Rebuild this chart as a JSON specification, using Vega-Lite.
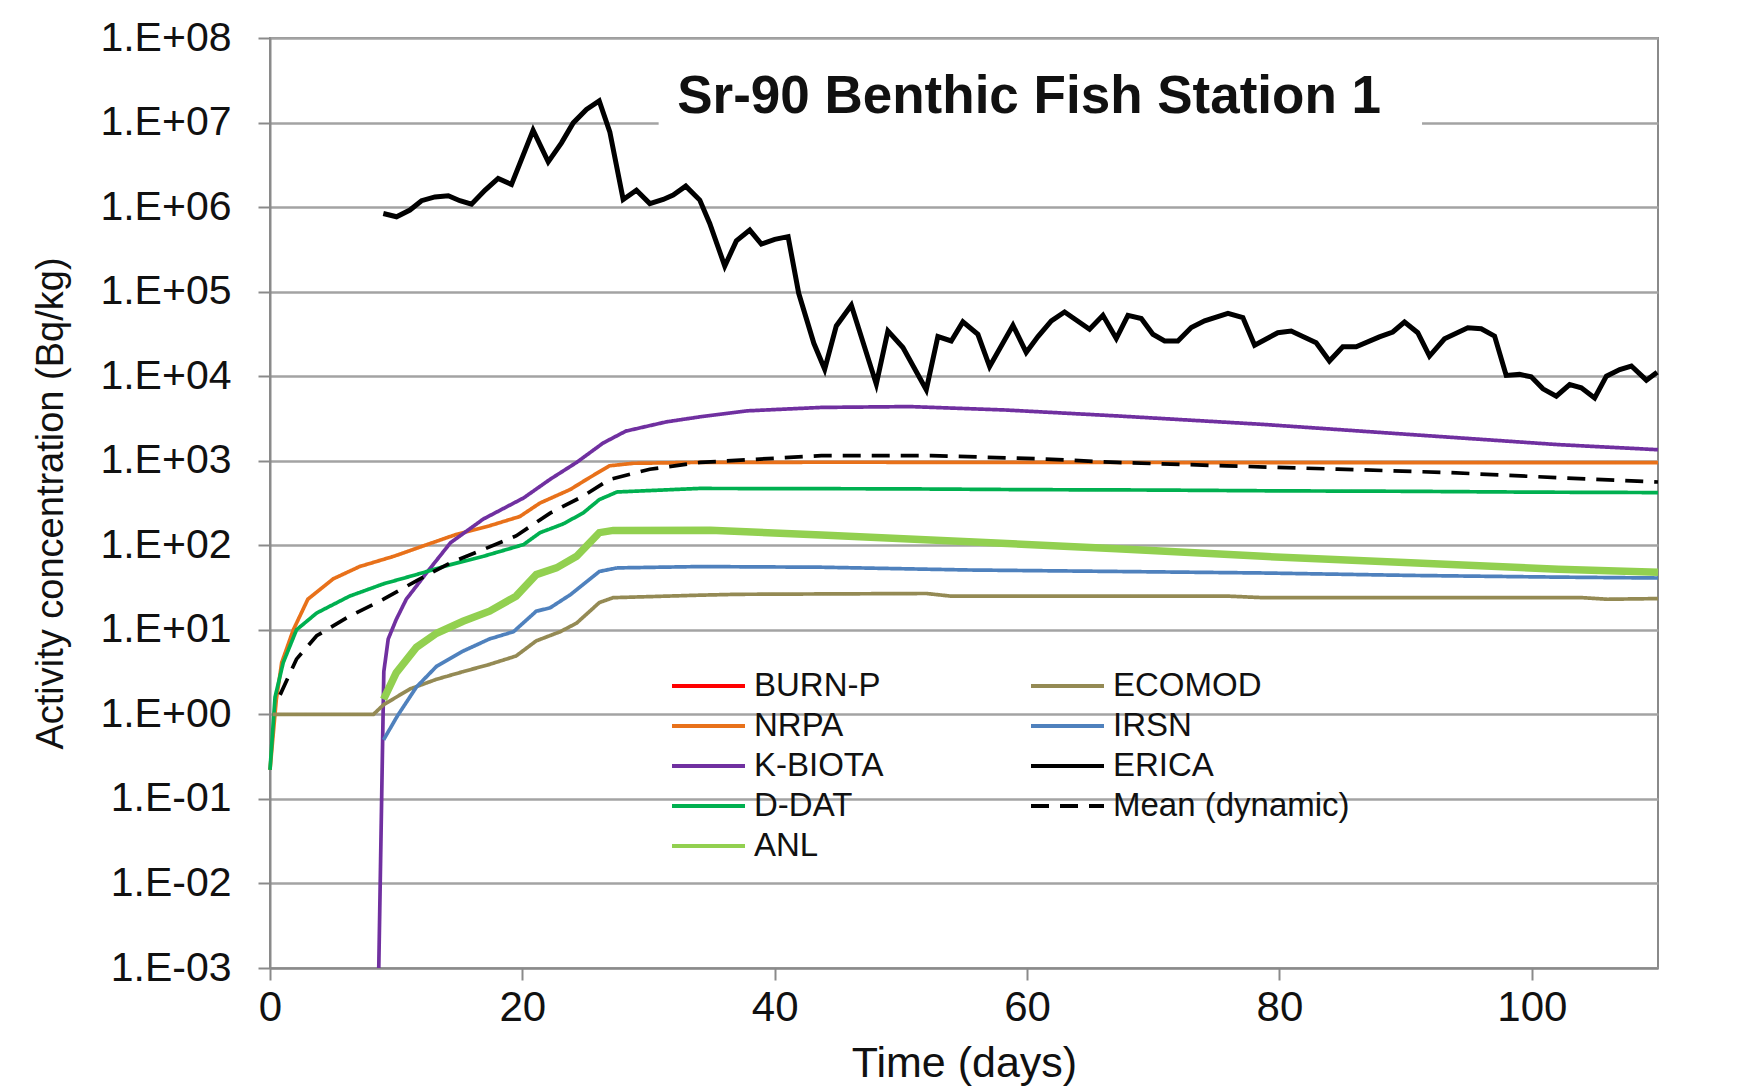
{
  "$schema": "https://vega.github.io/schema/vega-lite/v6.json",
  "width": 1388,
  "height": 930,
  "autosize": {"type": "none"},
  "padding": {"left": 270, "top": 38, "right": 99, "bottom": 123},
  "background": "white",
  "config": {
    "font": "Liberation Sans",
    "view": {"stroke": "#8a8a8a", "strokeWidth": 2},
    "axis": {
      "domainColor": "#8a8a8a", "domainWidth": 2,
      "tickColor": "#8a8a8a", "tickWidth": 2, "tickSize": 12,
      "gridColor": "#a3a3a3", "gridWidth": 2.5,
      "labelColor": "#111111", "titleColor": "#111111",
      "labelFont": "Liberation Sans", "titleFont": "Liberation Sans",
      "titleFontWeight": "normal", "labelFontSize": 41, "titleFontSize": 39,
      "labelFlush": false, "labelOverlap": false, "labelBound": false
    }
  },
  "datasets": {
    "series": [
      {"model": "NRPA", "day": 0, "value": 0.22},
      {"model": "NRPA", "day": 0.5, "value": 1.5},
      {"model": "NRPA", "day": 0.93, "value": 4.1},
      {"model": "NRPA", "day": 1.85, "value": 10},
      {"model": "NRPA", "day": 3.0, "value": 23},
      {"model": "NRPA", "day": 5.0, "value": 40},
      {"model": "NRPA", "day": 7.1, "value": 56},
      {"model": "NRPA", "day": 9.8, "value": 74},
      {"model": "NRPA", "day": 12.7, "value": 105},
      {"model": "NRPA", "day": 14.8, "value": 135},
      {"model": "NRPA", "day": 17.4, "value": 170},
      {"model": "NRPA", "day": 19.8, "value": 219},
      {"model": "NRPA", "day": 21.4, "value": 316},
      {"model": "NRPA", "day": 23.8, "value": 457},
      {"model": "NRPA", "day": 25.1, "value": 603},
      {"model": "NRPA", "day": 26.9, "value": 871},
      {"model": "NRPA", "day": 28.8, "value": 933},
      {"model": "NRPA", "day": 34, "value": 955},
      {"model": "NRPA", "day": 45, "value": 960},
      {"model": "NRPA", "day": 60, "value": 955},
      {"model": "NRPA", "day": 80, "value": 950},
      {"model": "NRPA", "day": 100, "value": 950},
      {"model": "NRPA", "day": 110, "value": 948},

      {"model": "K-BIOTA", "day": 8.62, "value": 0.001},
      {"model": "K-BIOTA", "day": 9.02, "value": 3.2},
      {"model": "K-BIOTA", "day": 9.37, "value": 7.8},
      {"model": "K-BIOTA", "day": 10.0, "value": 13.2},
      {"model": "K-BIOTA", "day": 10.8, "value": 23},
      {"model": "K-BIOTA", "day": 12.4, "value": 47},
      {"model": "K-BIOTA", "day": 14.3, "value": 107},
      {"model": "K-BIOTA", "day": 16.9, "value": 204},
      {"model": "K-BIOTA", "day": 20.1, "value": 363},
      {"model": "K-BIOTA", "day": 22.2, "value": 603},
      {"model": "K-BIOTA", "day": 24.3, "value": 955},
      {"model": "K-BIOTA", "day": 26.4, "value": 1620},
      {"model": "K-BIOTA", "day": 28.2, "value": 2240},
      {"model": "K-BIOTA", "day": 31.4, "value": 2880},
      {"model": "K-BIOTA", "day": 34.1, "value": 3310},
      {"model": "K-BIOTA", "day": 37.8, "value": 3890},
      {"model": "K-BIOTA", "day": 43.7, "value": 4270},
      {"model": "K-BIOTA", "day": 50.7, "value": 4370},
      {"model": "K-BIOTA", "day": 58.3, "value": 3980},
      {"model": "K-BIOTA", "day": 67.1, "value": 3390},
      {"model": "K-BIOTA", "day": 78.7, "value": 2690},
      {"model": "K-BIOTA", "day": 90.4, "value": 2040},
      {"model": "K-BIOTA", "day": 102.1, "value": 1550},
      {"model": "K-BIOTA", "day": 110, "value": 1350},

      {"model": "D-DAT", "day": 0, "value": 0.22},
      {"model": "D-DAT", "day": 0.4, "value": 1.6},
      {"model": "D-DAT", "day": 1.05, "value": 4.1},
      {"model": "D-DAT", "day": 2.1, "value": 10},
      {"model": "D-DAT", "day": 3.7, "value": 15.8},
      {"model": "D-DAT", "day": 6.3, "value": 25},
      {"model": "D-DAT", "day": 9.0, "value": 35},
      {"model": "D-DAT", "day": 11.6, "value": 45},
      {"model": "D-DAT", "day": 14.3, "value": 59},
      {"model": "D-DAT", "day": 16.9, "value": 74},
      {"model": "D-DAT", "day": 20.1, "value": 102},
      {"model": "D-DAT", "day": 21.4, "value": 141},
      {"model": "D-DAT", "day": 23.2, "value": 178},
      {"model": "D-DAT", "day": 24.8, "value": 240},
      {"model": "D-DAT", "day": 26.1, "value": 347},
      {"model": "D-DAT", "day": 27.5, "value": 427},
      {"model": "D-DAT", "day": 34, "value": 470},
      {"model": "D-DAT", "day": 50, "value": 465},
      {"model": "D-DAT", "day": 60, "value": 455},
      {"model": "D-DAT", "day": 70, "value": 450},
      {"model": "D-DAT", "day": 80, "value": 440},
      {"model": "D-DAT", "day": 90, "value": 435},
      {"model": "D-DAT", "day": 100, "value": 425},
      {"model": "D-DAT", "day": 110, "value": 420},

      {"model": "ANL", "day": 9.0, "value": 1.5},
      {"model": "ANL", "day": 10.0, "value": 3.1},
      {"model": "ANL", "day": 11.6, "value": 6.2},
      {"model": "ANL", "day": 13.2, "value": 9.1},
      {"model": "ANL", "day": 15.3, "value": 12.6},
      {"model": "ANL", "day": 17.4, "value": 16.6},
      {"model": "ANL", "day": 19.5, "value": 25},
      {"model": "ANL", "day": 21.1, "value": 45},
      {"model": "ANL", "day": 22.7, "value": 54},
      {"model": "ANL", "day": 24.3, "value": 74},
      {"model": "ANL", "day": 26.1, "value": 141},
      {"model": "ANL", "day": 27.2, "value": 150},
      {"model": "ANL", "day": 34.9, "value": 151},
      {"model": "ANL", "day": 43.7, "value": 132},
      {"model": "ANL", "day": 55.4, "value": 110},
      {"model": "ANL", "day": 67.1, "value": 91},
      {"model": "ANL", "day": 78.7, "value": 74},
      {"model": "ANL", "day": 90.4, "value": 62},
      {"model": "ANL", "day": 102.1, "value": 52},
      {"model": "ANL", "day": 110, "value": 48},

      {"model": "ECOMOD", "day": 0.2, "value": 1.0},
      {"model": "ECOMOD", "day": 8.2, "value": 1.0},
      {"model": "ECOMOD", "day": 9.0, "value": 1.3},
      {"model": "ECOMOD", "day": 11.1, "value": 2.0},
      {"model": "ECOMOD", "day": 13.2, "value": 2.6},
      {"model": "ECOMOD", "day": 15.3, "value": 3.2},
      {"model": "ECOMOD", "day": 17.4, "value": 3.9},
      {"model": "ECOMOD", "day": 19.5, "value": 4.9},
      {"model": "ECOMOD", "day": 21.1, "value": 7.4},
      {"model": "ECOMOD", "day": 23.0, "value": 9.5},
      {"model": "ECOMOD", "day": 24.3, "value": 12},
      {"model": "ECOMOD", "day": 26.1, "value": 21},
      {"model": "ECOMOD", "day": 27.2, "value": 24},
      {"model": "ECOMOD", "day": 34.1, "value": 25.7},
      {"model": "ECOMOD", "day": 37, "value": 26.3},
      {"model": "ECOMOD", "day": 52, "value": 26.9},
      {"model": "ECOMOD", "day": 54, "value": 25},
      {"model": "ECOMOD", "day": 76, "value": 25},
      {"model": "ECOMOD", "day": 78.7, "value": 24},
      {"model": "ECOMOD", "day": 104, "value": 24},
      {"model": "ECOMOD", "day": 106, "value": 23},
      {"model": "ECOMOD", "day": 110, "value": 23.4},

      {"model": "IRSN", "day": 9.0, "value": 0.5},
      {"model": "IRSN", "day": 10.1, "value": 0.96},
      {"model": "IRSN", "day": 11.6, "value": 2.1},
      {"model": "IRSN", "day": 13.2, "value": 3.7},
      {"model": "IRSN", "day": 15.3, "value": 5.6},
      {"model": "IRSN", "day": 17.4, "value": 7.8},
      {"model": "IRSN", "day": 19.3, "value": 9.5},
      {"model": "IRSN", "day": 21.1, "value": 16.6},
      {"model": "IRSN", "day": 22.2, "value": 18.2},
      {"model": "IRSN", "day": 23.8, "value": 26},
      {"model": "IRSN", "day": 26.1, "value": 49},
      {"model": "IRSN", "day": 27.5, "value": 54},
      {"model": "IRSN", "day": 34.1, "value": 56},
      {"model": "IRSN", "day": 43.7, "value": 55},
      {"model": "IRSN", "day": 55.4, "value": 51},
      {"model": "IRSN", "day": 67.1, "value": 49},
      {"model": "IRSN", "day": 78.7, "value": 47},
      {"model": "IRSN", "day": 90.4, "value": 44},
      {"model": "IRSN", "day": 102.1, "value": 42},
      {"model": "IRSN", "day": 110, "value": 41},

      {"model": "ERICA", "day": 8.98, "value": 841000},
      {"model": "ERICA", "day": 10.03, "value": 769000},
      {"model": "ERICA", "day": 11.09, "value": 923000},
      {"model": "ERICA", "day": 12.01, "value": 1190000},
      {"model": "ERICA", "day": 13.07, "value": 1320000},
      {"model": "ERICA", "day": 14.13, "value": 1360000},
      {"model": "ERICA", "day": 15.05, "value": 1190000},
      {"model": "ERICA", "day": 15.97, "value": 1080000},
      {"model": "ERICA", "day": 17.03, "value": 1580000},
      {"model": "ERICA", "day": 18.08, "value": 2180000},
      {"model": "ERICA", "day": 19.14, "value": 1850000},
      {"model": "ERICA", "day": 20.85, "value": 8110000},
      {"model": "ERICA", "day": 22.05, "value": 3430000},
      {"model": "ERICA", "day": 23.1, "value": 5750000},
      {"model": "ERICA", "day": 24.03, "value": 9910000},
      {"model": "ERICA", "day": 25.08, "value": 14300000},
      {"model": "ERICA", "day": 26.09, "value": 18000000},
      {"model": "ERICA", "day": 26.93, "value": 7760000},
      {"model": "ERICA", "day": 27.99, "value": 1230000},
      {"model": "ERICA", "day": 29.04, "value": 1580000},
      {"model": "ERICA", "day": 30.1, "value": 1100000},
      {"model": "ERICA", "day": 31.16, "value": 1230000},
      {"model": "ERICA", "day": 31.95, "value": 1390000},
      {"model": "ERICA", "day": 32.95, "value": 1770000},
      {"model": "ERICA", "day": 34.06, "value": 1210000},
      {"model": "ERICA", "day": 34.85, "value": 641000},
      {"model": "ERICA", "day": 36.04, "value": 201000},
      {"model": "ERICA", "day": 36.96, "value": 398000},
      {"model": "ERICA", "day": 38.02, "value": 535000},
      {"model": "ERICA", "day": 38.94, "value": 366000},
      {"model": "ERICA", "day": 40.0, "value": 415000},
      {"model": "ERICA", "day": 41.06, "value": 447000},
      {"model": "ERICA", "day": 41.9, "value": 95500},
      {"model": "ERICA", "day": 43.1, "value": 24500},
      {"model": "ERICA", "day": 43.96, "value": 12100},
      {"model": "ERICA", "day": 44.88, "value": 39300},
      {"model": "ERICA", "day": 46.07, "value": 69000},
      {"model": "ERICA", "day": 48.05, "value": 8050},
      {"model": "ERICA", "day": 48.97, "value": 34300},
      {"model": "ERICA", "day": 50.16, "value": 21800},
      {"model": "ERICA", "day": 52.01, "value": 6900},
      {"model": "ERICA", "day": 52.93, "value": 29400},
      {"model": "ERICA", "day": 53.99, "value": 26100},
      {"model": "ERICA", "day": 54.91, "value": 43900},
      {"model": "ERICA", "day": 56.1, "value": 31300},
      {"model": "ERICA", "day": 57.03, "value": 13000},
      {"model": "ERICA", "day": 58.88, "value": 40000},
      {"model": "ERICA", "day": 59.93, "value": 19100},
      {"model": "ERICA", "day": 60.86, "value": 29400},
      {"model": "ERICA", "day": 61.92, "value": 45100},
      {"model": "ERICA", "day": 62.97, "value": 57500},
      {"model": "ERICA", "day": 64.95, "value": 35900},
      {"model": "ERICA", "day": 66.01, "value": 52500},
      {"model": "ERICA", "day": 67.07, "value": 27900},
      {"model": "ERICA", "day": 67.99, "value": 52500},
      {"model": "ERICA", "day": 69.05, "value": 48000},
      {"model": "ERICA", "day": 69.97, "value": 31300},
      {"model": "ERICA", "day": 70.9, "value": 26100},
      {"model": "ERICA", "day": 71.95, "value": 26100},
      {"model": "ERICA", "day": 73.01, "value": 37600},
      {"model": "ERICA", "day": 74.07, "value": 45100},
      {"model": "ERICA", "day": 75.92, "value": 55500},
      {"model": "ERICA", "day": 77.1, "value": 49300},
      {"model": "ERICA", "day": 78.03, "value": 23200},
      {"model": "ERICA", "day": 79.87, "value": 32700},
      {"model": "ERICA", "day": 80.93, "value": 34200},
      {"model": "ERICA", "day": 82.91, "value": 24800},
      {"model": "ERICA", "day": 83.96, "value": 15100},
      {"model": "ERICA", "day": 85.02, "value": 22300},
      {"model": "ERICA", "day": 86.08, "value": 22300},
      {"model": "ERICA", "day": 87.92, "value": 29200},
      {"model": "ERICA", "day": 88.98, "value": 33300},
      {"model": "ERICA", "day": 89.91, "value": 43700},
      {"model": "ERICA", "day": 90.96, "value": 32700},
      {"model": "ERICA", "day": 91.89, "value": 17300},
      {"model": "ERICA", "day": 93.08, "value": 27700},
      {"model": "ERICA", "day": 94.93, "value": 37400},
      {"model": "ERICA", "day": 95.99, "value": 36400},
      {"model": "ERICA", "day": 97.05, "value": 29800},
      {"model": "ERICA", "day": 97.97, "value": 10200},
      {"model": "ERICA", "day": 99.03, "value": 10500},
      {"model": "ERICA", "day": 99.95, "value": 9820},
      {"model": "ERICA", "day": 100.88, "value": 7080},
      {"model": "ERICA", "day": 101.94, "value": 5790},
      {"model": "ERICA", "day": 103.0, "value": 7960},
      {"model": "ERICA", "day": 103.92, "value": 7280},
      {"model": "ERICA", "day": 104.98, "value": 5530},
      {"model": "ERICA", "day": 105.91, "value": 10000},
      {"model": "ERICA", "day": 106.97, "value": 12000},
      {"model": "ERICA", "day": 107.89, "value": 13200},
      {"model": "ERICA", "day": 109.08, "value": 8970},
      {"model": "ERICA", "day": 109.93, "value": 11100},

      {"model": "Mean (dynamic)", "day": 0.8, "value": 1.7},
      {"model": "Mean (dynamic)", "day": 2.1, "value": 4.5},
      {"model": "Mean (dynamic)", "day": 3.7, "value": 8.5},
      {"model": "Mean (dynamic)", "day": 6.3, "value": 14.5},
      {"model": "Mean (dynamic)", "day": 9.0, "value": 23},
      {"model": "Mean (dynamic)", "day": 11.6, "value": 38},
      {"model": "Mean (dynamic)", "day": 14.3, "value": 62},
      {"model": "Mean (dynamic)", "day": 16.9, "value": 89},
      {"model": "Mean (dynamic)", "day": 19.5, "value": 129},
      {"model": "Mean (dynamic)", "day": 22.2, "value": 240},
      {"model": "Mean (dynamic)", "day": 24.8, "value": 380},
      {"model": "Mean (dynamic)", "day": 26.9, "value": 600},
      {"model": "Mean (dynamic)", "day": 30.1, "value": 794},
      {"model": "Mean (dynamic)", "day": 34.1, "value": 955},
      {"model": "Mean (dynamic)", "day": 43.7, "value": 1150},
      {"model": "Mean (dynamic)", "day": 52.4, "value": 1150},
      {"model": "Mean (dynamic)", "day": 61.2, "value": 1050},
      {"model": "Mean (dynamic)", "day": 67.1, "value": 955},
      {"model": "Mean (dynamic)", "day": 75.8, "value": 870},
      {"model": "Mean (dynamic)", "day": 84.6, "value": 795},
      {"model": "Mean (dynamic)", "day": 93.4, "value": 725},
      {"model": "Mean (dynamic)", "day": 102.1, "value": 630},
      {"model": "Mean (dynamic)", "day": 110, "value": 560}
    ],
    "heading": [{"label": "Sr-90 Benthic Fish Station 1"}]
  },
  "layer": [
    {
      "data": {"name": "heading"},
      "mark": {"type": "rect", "fill": "white", "stroke": null},
      "encoding": {
        "x": {"datum": 30.8, "type": "quantitative", "scale": {"domain": [0, 110], "nice": false, "zero": false}},
        "x2": {"datum": 91.3},
        "y": {"datum": 72400000, "type": "quantitative", "scale": {"type": "log", "domain": [0.001, 100000000], "nice": false}},
        "y2": {"datum": 7240000}
      }
    },
    {
      "data": {"name": "series"},
      "transform": [{"filter": "datum.model !== 'ANL' && datum.model !== 'ERICA'"}],
      "mark": {"type": "line", "interpolate": "linear", "strokeWidth": 3.7},
      "encoding": {
        "x": {
          "field": "day", "type": "quantitative",
          "scale": {"domain": [0, 110], "nice": false, "zero": false},
          "axis": {
            "title": "Time (days)", "values": [0, 20, 40, 60, 80, 100],
            "grid": false, "labelPadding": 7, "titlePadding": 14, "titleFontSize": 43, "labelFontSize": 42
          }
        },
        "y": {
          "field": "value", "type": "quantitative",
          "scale": {"type": "log", "domain": [0.001, 100000000], "nice": false},
          "axis": {
            "title": "Activity concentration (Bq/kg)",
            "values": [0.001, 0.01, 0.1, 1, 10, 100, 1000, 10000, 100000, 1000000, 10000000, 100000000],
            "labelExpr": "'1.E' + (datum.value >= 1 ? '+' : '-') + '0' + abs(round(log(datum.value) / LN10))",
            "grid": true, "labelPadding": 27, "titlePadding": 29, "titleFontSize": 38
          }
        },
        "color": {
          "field": "model", "type": "nominal",
          "scale": {
            "domain": ["BURN-P", "NRPA", "K-BIOTA", "D-DAT", "ANL", "ECOMOD", "IRSN", "ERICA", "Mean (dynamic)"],
            "range": ["#FF0000", "#E8711A", "#7030A0", "#00B050", "#92D050", "#948A54", "#4F81BD", "#000000", "#000000"]
          },
          "legend": {
            "title": null, "orient": "none", "legendX": 400, "legendY": 628, "columns": 2,
            "symbolType": "stroke", "symbolSize": 5329, "symbolStrokeWidth": 4,
            "clipHeight": 40, "rowPadding": 0, "columnPadding": 145, "labelOffset": 7,
            "labelFontSize": 33, "labelFont": "Liberation Sans", "labelColor": "#111111",
            "labelLimit": 400, "padding": 0
          }
        },
        "strokeDash": {
          "field": "model", "type": "nominal",
          "scale": {
            "domain": ["BURN-P", "NRPA", "K-BIOTA", "D-DAT", "ANL", "ECOMOD", "IRSN", "ERICA", "Mean (dynamic)"],
            "range": [[1, 0], [1, 0], [1, 0], [1, 0], [1, 0], [1, 0], [1, 0], [1, 0], [18, 11]]
          },
          "legend": {
            "title": null, "orient": "none", "legendX": 400, "legendY": 628, "columns": 2,
            "symbolType": "stroke", "symbolSize": 5329, "symbolStrokeWidth": 4,
            "clipHeight": 40, "rowPadding": 0, "columnPadding": 145, "labelOffset": 7,
            "labelFontSize": 33, "labelFont": "Liberation Sans", "labelColor": "#111111",
            "labelLimit": 400, "padding": 0
          }
        }
      }
    },
    {
      "data": {"name": "series"},
      "transform": [{"filter": "datum.model === 'ANL'"}],
      "mark": {"type": "line", "interpolate": "linear", "strokeWidth": 7.5},
      "encoding": {
        "x": {"field": "day", "type": "quantitative"},
        "y": {"field": "value", "type": "quantitative"},
        "color": {
          "field": "model", "type": "nominal",
          "legend": {
            "title": null, "orient": "none", "legendX": 400, "legendY": 628, "columns": 2,
            "symbolType": "stroke", "symbolSize": 5329, "symbolStrokeWidth": 4,
            "clipHeight": 40, "rowPadding": 0, "columnPadding": 145, "labelOffset": 7,
            "labelFontSize": 33, "labelFont": "Liberation Sans", "labelColor": "#111111",
            "labelLimit": 400, "padding": 0
          }
        }
      }
    },
    {
      "data": {"name": "series"},
      "transform": [{"filter": "datum.model === 'ERICA'"}],
      "mark": {"type": "line", "interpolate": "linear", "strokeWidth": 5},
      "encoding": {
        "x": {"field": "day", "type": "quantitative"},
        "y": {"field": "value", "type": "quantitative"},
        "color": {
          "field": "model", "type": "nominal",
          "legend": {
            "title": null, "orient": "none", "legendX": 400, "legendY": 628, "columns": 2,
            "symbolType": "stroke", "symbolSize": 5329, "symbolStrokeWidth": 4,
            "clipHeight": 40, "rowPadding": 0, "columnPadding": 145, "labelOffset": 7,
            "labelFontSize": 33, "labelFont": "Liberation Sans", "labelColor": "#111111",
            "labelLimit": 400, "padding": 0
          }
        }
      }
    },
    {
      "data": {"name": "heading"},
      "mark": {"type": "text", "font": "Liberation Sans", "fontWeight": "bold", "fontSize": 53, "align": "center", "baseline": "alphabetic", "color": "#111111"},
      "encoding": {
        "text": {"field": "label"},
        "x": {"datum": 60.16, "type": "quantitative"},
        "y": {"datum": 13000000, "type": "quantitative"}
      }
    }
  ]
}
